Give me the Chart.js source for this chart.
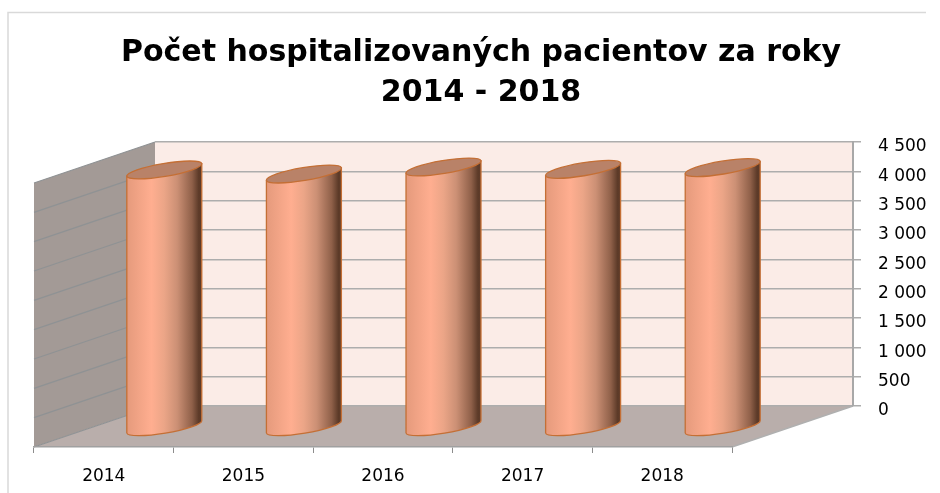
<!DOCTYPE html>
<html><head><meta charset="utf-8">
<style>html,body{margin:0;padding:0;background:#fff}canvas{display:block;filter:blur(0.4px)}</style>
<script src="https://cdn.jsdelivr.net/npm/chart.js@4"></script></head>
<body><div style="width:940px;height:493px;position:relative"><canvas id="c"></canvas></div>
<script>
const categories = ["2014","2015","2016","2017","2018"];
const patients = [4390,4320,4440,4400,4430];
const yTicks = [0,500,1000,1500,2000,2500,3000,3500,4000,4500];
const titleLines = ["Počet hospitalizovaných pacientov za roky","2014 - 2018"];
const DX = 121, DY = 41;

const scene = {
  id:'scene',
  afterLayout(chart){
    const x = chart.scales.x, a = chart.chartArea;
    x.left = a.left - DX; x.right = a.right - DX; x.width = x.right - x.left;
    x.top = a.bottom + DY; x.bottom = x.top + 40;
    x.configure();
    chart.titleBlock.left = 0; chart.titleBlock.right = 962;
  },
  beforeDraw(chart){
    const c = chart.ctx, a = chart.chartArea, y = chart.scales.y;
    c.save();
    c.strokeStyle='#d9d9d9'; c.lineWidth=1.5;
    c.beginPath(); c.moveTo(8,493); c.lineTo(8,12.5); c.lineTo(926,12.5); c.stroke();
    c.fillStyle='#fbece7'; c.fillRect(a.left,a.top,a.right-a.left,a.bottom-a.top);
    c.fillStyle='#a39a96';
    c.beginPath(); c.moveTo(a.left,a.top); c.lineTo(a.left-DX,a.top+DY); c.lineTo(a.left-DX,a.bottom+DY); c.lineTo(a.left,a.bottom); c.closePath(); c.fill();
    c.fillStyle='#b9aeab';
    c.beginPath(); c.moveTo(a.left,a.bottom); c.lineTo(a.right,a.bottom); c.lineTo(a.right-DX,a.bottom+DY); c.lineTo(a.left-DX,a.bottom+DY); c.closePath(); c.fill();
    c.strokeStyle='#8f9294'; c.lineWidth=1.2;
    yTicks.forEach(v=>{ const p=y.getPixelForValue(v);
      c.beginPath(); c.moveTo(a.left,p); c.lineTo(a.left-DX,p+DY); c.stroke(); });
    c.strokeStyle='#b0b0b0'; c.lineWidth=1.5;
    c.beginPath(); c.moveTo(a.right,a.bottom); c.lineTo(a.right-DX,a.bottom+DY); c.stroke();
    c.restore();
  },
  beforeDatasetDraw(chart,args){
    const c = chart.ctx, meta = args.meta;
    const tilt = -0.165, minor = 6.5;
    meta.data.forEach(el=>{
      const hw = el.width/2, cx = el.x + DX/2, top = el.y + DY/2 + 1, base = el.base + DY/2 + 1;
      const ey = hw*Math.sin(-tilt);
      const major = hw/Math.cos(tilt);
      c.save();
      const g = c.createLinearGradient(cx-hw,0,cx+hw,0);
      g.addColorStop(0,'#e59a7c'); g.addColorStop(0.33,'#ffae90'); g.addColorStop(0.5,'#eba587');
      g.addColorStop(0.67,'#cc9075'); g.addColorStop(0.87,'#8f6049'); g.addColorStop(0.96,'#5c3a28'); g.addColorStop(1,'#5f3c2a');
      c.beginPath();
      c.moveTo(cx-hw, top+ey);
      c.lineTo(cx-hw, base+ey);
      c.ellipse(cx,base,major,minor,tilt,Math.PI,0,true);
      c.lineTo(cx+hw, top-ey);
      c.closePath();
      c.fillStyle=g; c.fill();
      c.strokeStyle='#c46f35'; c.lineWidth=1.3; c.stroke();
      c.beginPath(); c.ellipse(cx,top,major,minor,tilt,0,Math.PI*2);
      c.fillStyle='#b98268'; c.fill(); c.stroke();
      c.restore();
    });
    return false;
  }
};

new Chart(document.getElementById('c'),{
  type:'bar',
  data:{labels:categories,datasets:[{label:'Pacienti',data:patients,backgroundColor:'#ffae90',categoryPercentage:1,barPercentage:0.537}]},
  plugins:[scene],
  options:{
    responsive:true,maintainAspectRatio:false,animation:false,
    layout:{padding:{top:0,left:155,right:0,bottom:0}},
    plugins:{legend:{display:false},tooltip:{enabled:false},
      title:{display:true,text:titleLines,color:'#000',padding:{top:33,bottom:29},
        font:{family:'"DejaVu Sans"',size:30,weight:'bold',lineHeight:1.333}}},
    scales:{
      x:{type:'category',offset:true,
        afterFit(s){ s.height = 87; },
        grid:{offset:true,drawOnChartArea:false,drawTicks:true,tickLength:6,color:'#8c8c8c'},
        border:{display:true,color:'#a0a0a0',width:1.5},
        ticks:{color:'#000',font:{family:'"DejaVu Sans"',size:17},padding:13,maxRotation:0}},
      y:{position:'right',min:0,max:4500,
        afterFit(s){ s.width = 87; },
        afterTickToLabelConversion(s){ s.ticks.forEach(t=>{ t.label=String(t.value).replace(/\B(?=(\d{3})+$)/g,' '); }); },
        grid:{color:'#adadad',lineWidth:1.5,tickLength:8},
        border:{display:true,color:'#a8a8a8',width:2},
        ticks:{stepSize:500,color:'#000',font:{family:'"DejaVu Sans"',size:17},padding:17,labelOffset:5,crossAlign:'near'}}
    }
  }
});
</script></body></html>
